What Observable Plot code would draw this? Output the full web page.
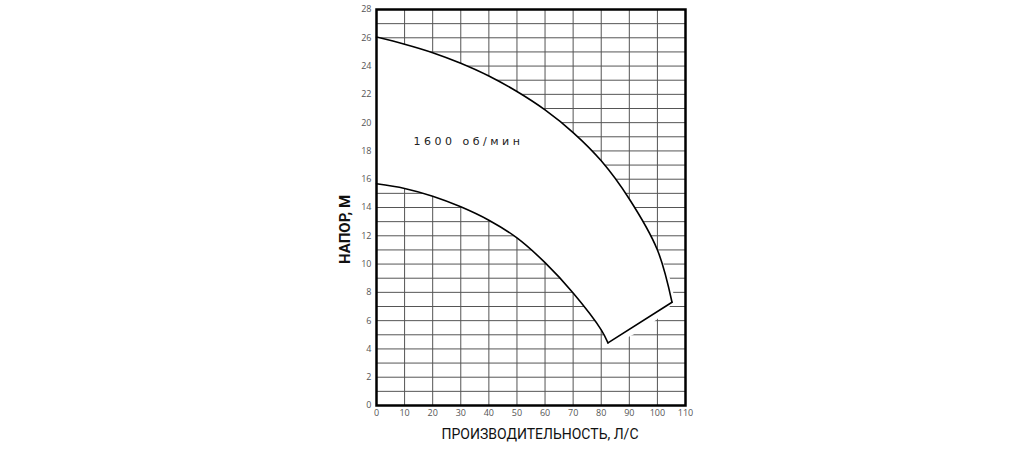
<!DOCTYPE html>
<html><head><meta charset="utf-8">
<script src="https://cdn.jsdelivr.net/npm/d3@7"></script>
<script src="https://cdn.jsdelivr.net/npm/@observablehq/plot@0.6"></script>
<style>body{margin:0;background:#fff;} #chart{width:1024px;height:450px;}</style>
</head><body><div id="chart"></div>
<script>
const upperX = [0, 10, 20, 30, 40, 50, 60, 70, 80, 90, 100, 105.2];
const upperY = [26.05, 25.55, 24.95, 24.2, 23.3, 22.2, 20.9, 19.3, 17.3, 14.6, 11.0, 7.3];
const lowerX = [0, 10, 20, 30, 40, 50, 60, 70, 80, 82.4];
const lowerY = [15.68, 15.35, 14.8, 14.05, 13.1, 11.85, 10.1, 7.95, 5.35, 4.43];
const xTicks = [0, 10, 20, 30, 40, 50, 60, 70, 80, 90, 100, 110];
const yTicks = [0, 2, 4, 6, 8, 10, 12, 14, 16, 18, 20, 22, 24, 26, 28];
const yGrid = d3.range(0, 29);
const label = {x: 13.2, y: 18.7, text: "1600 об/мин"};

const upper = upperX.map((x, i) => ({x, y: upperY[i]}));
const lower = lowerX.map((x, i) => ({x, y: lowerY[i]}));
const join = [upper[upper.length - 1], lower[lower.length - 1]];
const region = [...upper, ...lower.slice().reverse()];

const chart = Plot.plot({
  width: 1024, height: 450,
  marginLeft: 376, marginRight: 339, marginTop: 9, marginBottom: 45,
  style: {fontFamily: "'Open Sans', sans-serif", background: "#fff"},
  x: {domain: [0, 110], ticks: xTicks, tickSize: 0, tickPadding: 4, label: null},
  y: {domain: [0, 28], ticks: yTicks, tickSize: 0, tickPadding: 5, label: null},
  marks: [
    Plot.ruleX(xTicks, {stroke: "#555", strokeWidth: 1}),
    Plot.ruleY(yGrid, {stroke: "#555", strokeWidth: 1}),
    Plot.line(region, {x: "x", y: "y", fill: "white", stroke: "none", curve: "catmull-rom"}),
    Plot.line(upper, {x: "x", y: "y", stroke: "black", strokeWidth: 1.6, curve: "catmull-rom"}),
    Plot.line(lower, {x: "x", y: "y", stroke: "black", strokeWidth: 1.6, curve: "catmull-rom"}),
    Plot.line(join, {x: "x", y: "y", stroke: "black", strokeWidth: 1.6}),
    Plot.text([label], {x: "x", y: "y", text: "text", textAnchor: "start", fontSize: 11,
      fontFamily: "'DejaVu Sans', sans-serif", fill: "#222"}),
    Plot.frame({stroke: "black", strokeWidth: 2.5}),
    Plot.axisX({ticks: xTicks, tickSize: 0, tickPadding: 4, fontSize: 9, fill: "#555", label: null}),
    Plot.axisY({ticks: yTicks, tickSize: 0, tickPadding: 5, fontSize: 9, fill: "#555", label: null}),
    Plot.text(["ПРОИЗВОДИТЕЛЬНОСТЬ, Л/С"], {frameAnchor: "bottom", dx: 9, dy: 33, fontSize: 14,
      fontFamily: "'Roboto', sans-serif", fill: "#111"}),
    Plot.text(["НАПОР, М"], {frameAnchor: "left", textAnchor: "middle", dx: -31, dy: 22, rotate: -90,
      fontSize: 15, fontWeight: "bold", fontFamily: "'Roboto', sans-serif", fill: "#111"})
  ]
});
d3.select(chart).selectAll("text").filter(function() { return this.textContent === label.text; })
  .style("letter-spacing", "3.5px");
document.getElementById("chart").appendChild(chart);
</script>
</body></html>
